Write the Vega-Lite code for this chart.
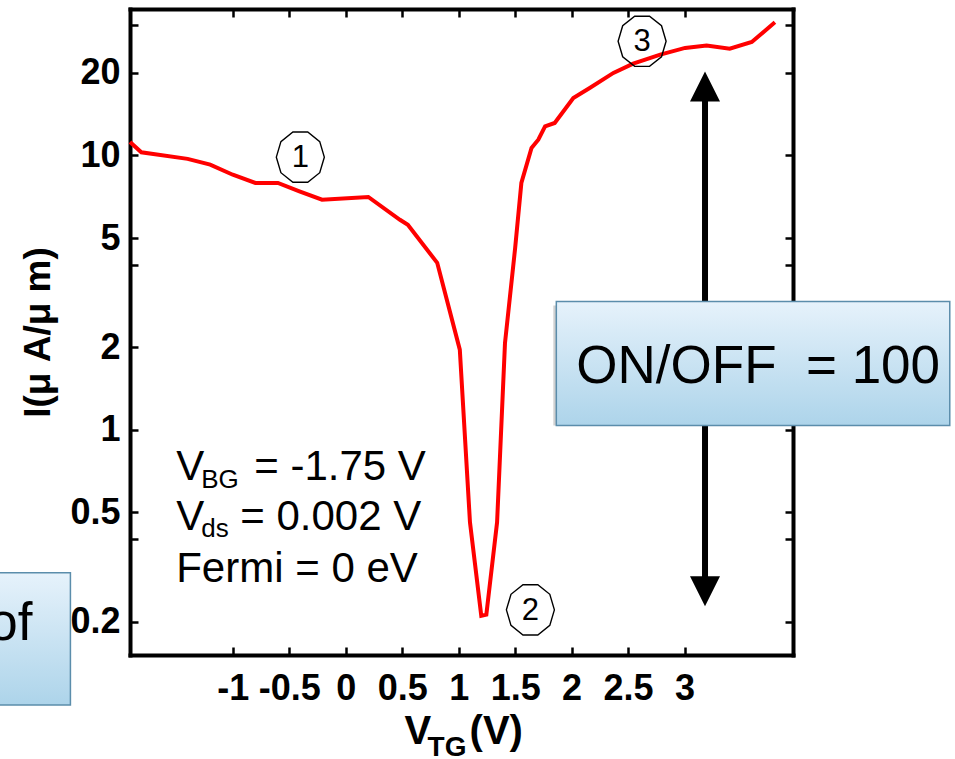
{
  "$schema": "https://vega.github.io/schema/vega-lite/v6.json",
  "width": 663,
  "height": 646,
  "autosize": {"type": "none"},
  "padding": {"left": 130, "top": 9, "right": 162, "bottom": 104},
  "background": "white",
  "config": {
    "view": {"stroke": null},
    "font": "Liberation Sans",
    "axis": {
      "grid": false,
      "domainColor": "black",
      "domainWidth": 4,
      "domainCap": "square",
      "tickColor": "black",
      "tickWidth": 2.5,
      "tickSize": -8,
      "labelColor": "black",
      "labelFont": "Liberation Sans",
      "labelFontWeight": "bold",
      "labelFontSize": 36,
      "labelOverlap": false,
      "labelFlush": false,
      "titleColor": "black",
      "titleFont": "Liberation Sans"
    }
  },
  "datasets": {
    "curve": [
      {"vtg": -1.91, "i": 11.2},
      {"vtg": -1.81, "i": 10.27},
      {"vtg": -1.4, "i": 9.72},
      {"vtg": -1.2, "i": 9.26},
      {"vtg": -1.0, "i": 8.51},
      {"vtg": -0.8, "i": 7.94},
      {"vtg": -0.6, "i": 7.94},
      {"vtg": -0.41, "i": 7.4},
      {"vtg": -0.21, "i": 6.9},
      {"vtg": 0.2, "i": 7.06},
      {"vtg": 0.48, "i": 5.83},
      {"vtg": 0.55, "i": 5.59},
      {"vtg": 0.81, "i": 4.06},
      {"vtg": 1.01, "i": 1.96},
      {"vtg": 1.1, "i": 0.46},
      {"vtg": 1.2, "i": 0.21},
      {"vtg": 1.245, "i": 0.212},
      {"vtg": 1.34, "i": 0.46},
      {"vtg": 1.41, "i": 2.07},
      {"vtg": 1.5, "i": 4.6},
      {"vtg": 1.555, "i": 7.94},
      {"vtg": 1.645, "i": 10.65},
      {"vtg": 1.705, "i": 11.42},
      {"vtg": 1.765, "i": 12.77},
      {"vtg": 1.85, "i": 13.14},
      {"vtg": 2.015, "i": 16.21},
      {"vtg": 2.16, "i": 17.63},
      {"vtg": 2.37, "i": 20.0},
      {"vtg": 2.545, "i": 21.63},
      {"vtg": 2.785, "i": 23.32},
      {"vtg": 3.005, "i": 24.67},
      {"vtg": 3.195, "i": 25.16},
      {"vtg": 3.4, "i": 24.51},
      {"vtg": 3.595, "i": 25.94},
      {"vtg": 3.8, "i": 30.58}
    ],
    "regions": [
      {"n": "1", "vtg": -0.402, "i": 9.86},
      {"n": "2", "vtg": 1.635, "i": 0.2206},
      {"n": "3", "vtg": 2.624, "i": 26.08}
    ]
  },
  "layer": [
    {
      "data": {"name": "curve"},
      "mark": {"type": "line", "color": "#ff0000", "strokeWidth": 4, "clip": false},
      "encoding": {
        "x": {
          "field": "vtg", "type": "quantitative",
          "scale": {"domain": [-1.91, 3.96], "nice": false, "zero": false},
          "axis": {
            "orient": "bottom",
            "values": [-1, -0.5, 0, 0.5, 1, 1.5, 2, 2.5, 3],
            "labelExpr": "replace(format(datum.value, '~g'), '\u2212', '-')",
            "labelPadding": 24,
            "title": null
          }
        },
        "y": {
          "field": "i", "type": "quantitative",
          "scale": {"type": "log", "domain": [0.151, 34.2], "nice": false},
          "axis": {
            "orient": "left",
            "values": [0.2, 0.4, 0.5, 1, 2, 4, 5, 10, 20, 30],
            "labelExpr": "(datum.value == 0.4 || datum.value == 4 || datum.value == 30) ? '' : format(datum.value, '~g')",
            "labelPadding": 18,
            "title": "I(\u03bc A/\u03bc m)",
            "titleFontSize": 37,
            "titleFontWeight": "bold",
            "titlePadding": 12
          }
        }
      }
    },
    {
      "data": {"name": "regions"},
      "mark": {
        "type": "point",
        "shape": "M1,0L0.809,-0.647L0.309,-1.046L-0.309,-1.046L-0.809,-0.647L-1,0L-0.809,0.647L-0.309,1.046L0.309,1.046L0.809,0.647Z",
        "size": 2304,
        "filled": false,
        "stroke": "black",
        "strokeWidth": 1.4,
        "opacity": 1
      },
      "encoding": {
        "x": {
          "field": "vtg", "type": "quantitative",
          "axis": {"orient": "top", "values": [-1, -0.5, 0, 0.5, 1, 1.5, 2, 2.5, 3], "labels": false, "title": null}
        },
        "y": {
          "field": "i", "type": "quantitative",
          "axis": {"orient": "right", "values": [0.2, 0.4, 0.5, 1, 2, 4, 5, 10, 20, 30], "labels": false, "title": null}
        }
      }
    },
    {
      "data": {"name": "regions"},
      "mark": {"type": "text", "fontSize": 31, "color": "black", "align": "center", "baseline": "middle", "dy": 1},
      "encoding": {
        "x": {"field": "vtg", "type": "quantitative", "axis": null},
        "y": {"field": "i", "type": "quantitative", "axis": null},
        "text": {"field": "n"}
      }
    },
    {
      "data": {"values": [{"vtg": 3.181, "top": 16.8, "bottom": 0.275}]},
      "mark": {"type": "rule", "color": "black", "strokeWidth": 6},
      "encoding": {
        "x": {"field": "vtg", "type": "quantitative", "axis": null},
        "y": {"field": "top", "type": "quantitative", "axis": null},
        "y2": {"field": "bottom"}
      }
    },
    {
      "data": {"values": [{}]},
      "mark": {"type": "point", "shape": "M0,-1L1,1L-1,1Z", "size": 900, "filled": true, "color": "black", "opacity": 1},
      "encoding": {
        "x": {"datum": 3.181, "type": "quantitative", "axis": null},
        "y": {"datum": 17.83, "type": "quantitative", "axis": null}
      }
    },
    {
      "data": {"values": [{}]},
      "mark": {"type": "point", "shape": "M0,1L1,-1L-1,-1Z", "size": 900, "filled": true, "color": "black", "opacity": 1},
      "encoding": {
        "x": {"datum": 3.181, "type": "quantitative", "axis": null},
        "y": {"datum": 0.2577, "type": "quantitative", "axis": null}
      }
    },
    {
      "data": {"values": [
        {"t": "V", "vtg": -1.501, "i": 0.657},
        {"t": "V", "vtg": -1.501, "i": 0.432},
        {"t": "Fermi = 0 eV", "vtg": -1.501, "i": 0.2776}
      ]},
      "mark": {"type": "text", "fontSize": 42, "color": "black", "align": "left", "baseline": "alphabetic"},
      "encoding": {
        "x": {"field": "vtg", "type": "quantitative", "axis": null},
        "y": {"field": "i", "type": "quantitative", "axis": null},
        "text": {"field": "t"}
      }
    },
    {
      "data": {"values": [{"t": "BG", "vtg": -1.501, "i": 0.657}]},
      "mark": {"type": "text", "fontSize": 26, "color": "black", "align": "left", "baseline": "alphabetic", "dx": 25, "dy": 8},
      "encoding": {
        "x": {"field": "vtg", "type": "quantitative", "axis": null},
        "y": {"field": "i", "type": "quantitative", "axis": null},
        "text": {"field": "t"}
      }
    },
    {
      "data": {"values": [{"t": "ds", "vtg": -1.501, "i": 0.432}]},
      "mark": {"type": "text", "fontSize": 26, "color": "black", "align": "left", "baseline": "alphabetic", "dx": 25, "dy": 7},
      "encoding": {
        "x": {"field": "vtg", "type": "quantitative", "axis": null},
        "y": {"field": "i", "type": "quantitative", "axis": null},
        "text": {"field": "t"}
      }
    },
    {
      "data": {"values": [{"t": "= -1.75 V", "vtg": -1.501, "i": 0.657}]},
      "mark": {"type": "text", "fontSize": 42, "color": "black", "align": "left", "baseline": "alphabetic", "dx": 78},
      "encoding": {
        "x": {"field": "vtg", "type": "quantitative", "axis": null},
        "y": {"field": "i", "type": "quantitative", "axis": null},
        "text": {"field": "t"}
      }
    },
    {
      "data": {"values": [{"t": "= 0.002 V", "vtg": -1.501, "i": 0.432}]},
      "mark": {"type": "text", "fontSize": 42, "color": "black", "align": "left", "baseline": "alphabetic", "dx": 64},
      "encoding": {
        "x": {"field": "vtg", "type": "quantitative", "axis": null},
        "y": {"field": "i", "type": "quantitative", "axis": null},
        "text": {"field": "t"}
      }
    },
    {
      "data": {"values": [
        {"x1": -3.6, "x2": -2.4375, "y1": 0.301, "y2": 0.0993},
        {"x1": 1.8645, "x2": 5.348, "y1": 2.938, "y2": 1.037}
      ]},
      "mark": {"type": "rect", "color": "black", "opacity": 0.18, "xOffset": -3, "yOffset": 4},
      "encoding": {
        "x": {"field": "x1", "type": "quantitative", "axis": null},
        "x2": {"field": "x2"},
        "y": {"field": "y1", "type": "quantitative", "axis": null},
        "y2": {"field": "y2"}
      }
    },
    {
      "data": {"values": [
        {"x1": -3.6, "x2": -2.4375, "y1": 0.301, "y2": 0.0993},
        {"x1": 1.8645, "x2": 5.348, "y1": 2.938, "y2": 1.037}
      ]},
      "mark": {
        "type": "rect",
        "fill": {"gradient": "linear", "x1": 0, "y1": 0, "x2": 0, "y2": 1,
          "stops": [{"offset": 0, "color": "#e6f2fb"}, {"offset": 1, "color": "#add4ea"}]},
        "stroke": "#5b8dab",
        "strokeWidth": 1.5,
        "opacity": 1
      },
      "encoding": {
        "x": {"field": "x1", "type": "quantitative", "axis": null},
        "x2": {"field": "x2"},
        "y": {"field": "y1", "type": "quantitative", "axis": null},
        "y2": {"field": "y2"}
      }
    },
    {
      "data": {"values": [{"t": "ON/OFF\u00a0 = 100", "vtg": 2.0416, "i": 1.4806}]},
      "mark": {"type": "text", "fontSize": 53, "color": "black", "align": "left", "baseline": "alphabetic"},
      "encoding": {
        "x": {"field": "vtg", "type": "quantitative", "axis": null},
        "y": {"field": "i", "type": "quantitative", "axis": null},
        "text": {"field": "t"}
      }
    },
    {
      "data": {"values": [{"t": "of", "vtg": -2.774, "i": 0.1716}]},
      "mark": {"type": "text", "fontSize": 53, "color": "black", "align": "right", "baseline": "alphabetic"},
      "encoding": {
        "x": {"field": "vtg", "type": "quantitative", "axis": null},
        "y": {"field": "i", "type": "quantitative", "axis": null},
        "text": {"field": "t"}
      }
    },
    {
      "data": {"values": [
        {"t": "V", "vtg": 0.521, "i": 0.0715},
        {"t": "(V)", "vtg": 1.0965, "i": 0.0715}
      ]},
      "mark": {"type": "text", "fontSize": 40, "fontWeight": "bold", "color": "black", "align": "left", "baseline": "alphabetic"},
      "encoding": {
        "x": {"field": "vtg", "type": "quantitative", "axis": null},
        "y": {"field": "i", "type": "quantitative", "axis": null},
        "text": {"field": "t"}
      }
    },
    {
      "data": {"values": [{"t": "TG", "vtg": 0.7245, "i": 0.0648}]},
      "mark": {"type": "text", "fontSize": 28, "fontWeight": "bold", "color": "black", "align": "left", "baseline": "alphabetic"},
      "encoding": {
        "x": {"field": "vtg", "type": "quantitative", "axis": null},
        "y": {"field": "i", "type": "quantitative", "axis": null},
        "text": {"field": "t"}
      }
    }
  ]
}
